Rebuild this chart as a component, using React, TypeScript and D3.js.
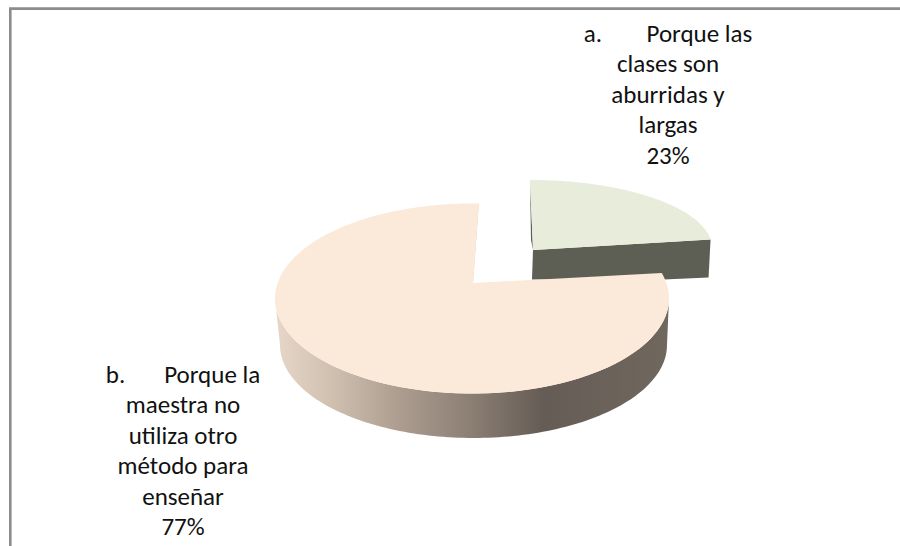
import React from 'react';
import * as d3 from 'd3';

const categories = ['a. Porque las clases son aburridas y largas', 'b. Porque la maestra no utiliza otro método para enseñar'];
const values = [23, 77];
const topColors = ['#e8ecdb', '#fbe9da'];
const labelA = ['a.\u00a0\u00a0\u00a0\u00a0\u00a0\u00a0\u00a0\u2009Porque las', 'clases son', 'aburridas y', 'largas', '23%'];
const labelB = ['b.\u00a0\u00a0\u00a0\u00a0\u00a0\u00a0\u2009Porque la', 'maestra no', 'utiliza otro', 'método para', 'enseñar', '77%'];
const wallStops: [number, string][] = [
  [0, '#e6d7c9'],
  [0.15, '#cfbfaf'],
  [0.32, '#ab9c8f'],
  [0.5, '#8b7e73'],
  [0.68, '#655c55'],
  [1, '#70675f'],
];

// perspective shifts the drawn ellipse angle away from the real pie angle
const startShift = (-8.4 * Math.PI) / 180;
const endShift = (2 * Math.PI) / 180;

const main = { cx: 472, cy: 298.5, rx: 197, ry: 95, ax: 473, ay: 283 };
const base = { cx: 473.5, cy: 345, rx: 193.5, ry: 93 };
const slice = { cx: 530, cy: 248, rx: 182, ry: 68, ax: 533, ay: 250, depth: 38 };

export default function App() {
  const ref = React.useRef<SVGSVGElement>(null);

  React.useEffect(() => {
    const svg = d3.select(ref.current);
    svg.selectAll('*').remove();

    const arcs = d3.pie<number>().sort(null)(values);
    const pt = (e: { cx: number; cy: number; rx: number; ry: number }, a: number): [number, number] => [
      e.cx + e.rx * Math.sin(a),
      e.cy - e.ry * Math.cos(a),
    ];
    const sweep = (e: { cx: number; cy: number; rx: number; ry: number }, a0: number, a1: number) =>
      d3.range(0, 121).map((i) => pt(e, a0 + ((a1 - a0) * i) / 120));
    const line = d3.line();

    const grad = svg.append('defs').append('linearGradient').attr('id', 'wall');
    wallStops.forEach(([o, c]) => {
      grad.append('stop').attr('offset', o).attr('stop-color', c);
    });

    // pulled-out slice a
    const a = arcs[0];
    const tip = pt(slice, a.endAngle);
    svg.append('path')
      .attr('d', line([
        [slice.ax, slice.ay],
        tip,
        [tip[0] - 2, tip[1] + slice.depth],
        [tip[0] - 47, tip[1] + slice.depth + 2],
        [slice.ax - 1, tip[1] + slice.depth + 2],
      ]) + 'Z')
      .attr('fill', '#5e5f54');
    svg.append('path')
      .attr('d', line([pt(slice, 0), [slice.ax, slice.ay], [slice.ax - 2, slice.ay - 10]]) + 'Z')
      .attr('fill', '#5e5f54');
    svg.append('path')
      .attr('d', line([[slice.ax, slice.ay], ...sweep(slice, a.startAngle, a.endAngle)]) + 'Z')
      .attr('fill', topColors[0]);

    // main slice b: wall, inner cut, then top
    const b = arcs[1];
    const upper = sweep(main, Math.PI / 2, 1.5 * Math.PI);
    const lower = sweep(base, 1.5 * Math.PI, Math.PI / 2);
    svg.append('path')
      .attr('d', line([...upper, ...lower]) + 'Z')
      .attr('fill', 'url(#wall)');
    const corner = pt(main, b.endAngle + endShift);
    svg.append('path')
      .attr('d', line([corner, [main.ax, main.ay], [main.ax - 2, main.ay], [corner[0] - 3, corner[1] + 4]]) + 'Z')
      .attr('fill', '#d8c9bb');
    svg.append('path')
      .attr('d', line([[main.ax, main.ay], ...sweep(main, b.startAngle + startShift, b.endAngle + endShift)]) + 'Z')
      .attr('fill', topColors[1]);

    const drawLabel = (lines: string[], x: number, y: number) => {
      const t = svg.append('text')
        .attr('text-anchor', 'middle')
        .attr('font-family', 'Carlito, Lato, "Open Sans", sans-serif')
        .attr('font-size', 25)
        .attr('fill', '#111');
      lines.forEach((l, i) => {
        t.append('tspan').attr('x', x).attr('y', y + i * 30.4).text(l);
      });
    };
    drawLabel(labelA, 668, 42);
    drawLabel(labelB, 183, 383);

    svg.append('path')
      .attr('d', 'M10.3,546V8.6H900')
      .attr('fill', 'none')
      .attr('stroke', '#8c8c8c')
      .attr('stroke-width', 2.6);
  }, []);

  return (
    <svg ref={ref} width={900} height={546} style={{ position: 'absolute', left: 0, top: 0, background: '#fff' }}>
      <title>{categories.join(' / ')}</title>
    </svg>
  );
}
